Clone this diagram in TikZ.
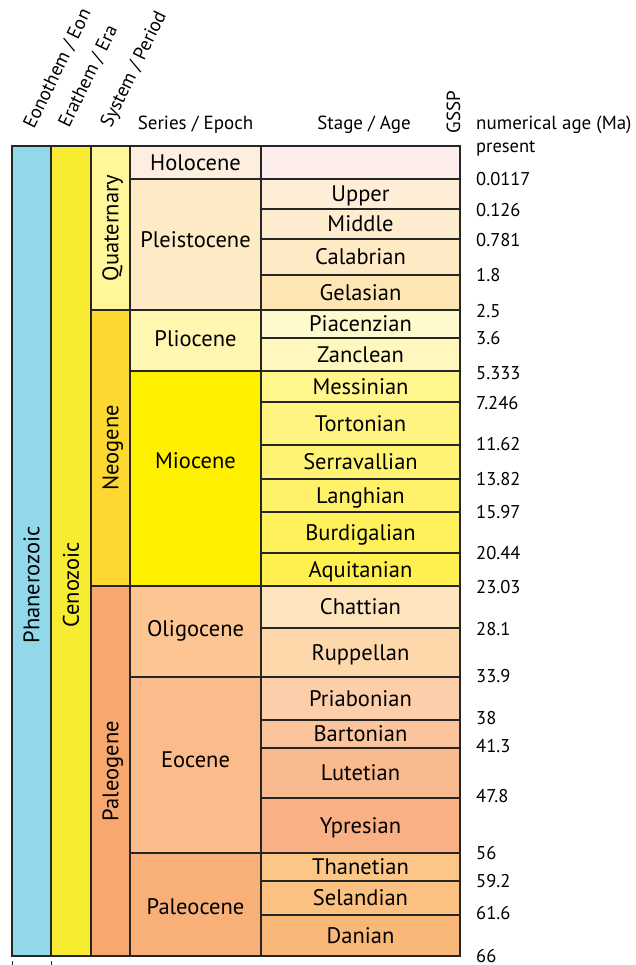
\documentclass[tikz,border=0pt]{standalone}
\usepackage{fontspec}
\setmainfont{PT Sans}
\usepackage{tikz}
\usetikzlibrary{positioning}

\definecolor{phan}{RGB}{145,216,235}
\definecolor{ceno}{RGB}{247,236,50}
\definecolor{quat}{RGB}{255,247,153}
\definecolor{neog}{RGB}{253,216,48}
\definecolor{paleog}{RGB}{248,167,110}
\definecolor{holoE}{RGB}{254,238,224}
\definecolor{holoS}{RGB}{253,238,236}
\definecolor{pleis}{RGB}{254,234,196}
\definecolor{upper}{RGB}{254,238,216}
\definecolor{middle}{RGB}{254,236,207}
\definecolor{calab}{RGB}{254,234,196}
\definecolor{gelas}{RGB}{254,229,180}
\definecolor{plio}{RGB}{255,246,176}
\definecolor{piac}{RGB}{255,249,206}
\definecolor{zanc}{RGB}{255,247,190}
\definecolor{mio}{RGB}{255,240,0}
\definecolor{mess}{RGB}{255,246,140}
\definecolor{tort}{RGB}{255,244,128}
\definecolor{serr}{RGB}{255,243,115}
\definecolor{lang}{RGB}{255,242,104}
\definecolor{burd}{RGB}{255,241,92}
\definecolor{aqui}{RGB}{255,240,80}
\definecolor{oligo}{RGB}{252,197,146}
\definecolor{chat}{RGB}{254,228,188}
\definecolor{rupp}{RGB}{254,216,170}
\definecolor{eoc}{RGB}{251,187,138}
\definecolor{priab}{RGB}{252,206,170}
\definecolor{bart}{RGB}{251,196,156}
\definecolor{lute}{RGB}{250,186,144}
\definecolor{ypres}{RGB}{249,176,133}
\definecolor{paleoc}{RGB}{248,176,120}
\definecolor{thane}{RGB}{252,198,134}
\definecolor{seland}{RGB}{252,193,128}
\definecolor{dani}{RGB}{250,184,120}

\begin{document}
\begin{tikzpicture}[
  x=1pt,y=-1pt,
  cell/.style={draw=black!85,line width=1.3pt},
  lab/.style={font=\fontsize{22.5}{26}\selectfont,inner sep=0pt,
    text height=15.7pt,text depth=0pt},
  head/.style={font=\fontsize{19}{22}\selectfont,inner sep=0pt},
  age/.style={font=\fontsize{18.5}{22}\selectfont,inner sep=0pt,
    text height=13pt,text depth=0pt,anchor=west}
]
  \useasboundingbox (0,0) rectangle (635,965);

  % column headers
  \node[head,rotate=64,anchor=base west] (hEon) at (34,130) {Eonothem / Eon};
  \node[head,rotate=64,anchor=base west] (hEra) at (69,129) {Erathem / Era};
  \node[head,rotate=64,anchor=base west] (hPer) at (111,129) {System / Period};
  \node[head,anchor=base] (hEpo) at (195.5,129.5) {Series / Epoch};
  \node[head,anchor=base] (hSta) at (364,129.5) {Stage / Age};
  \node[head,rotate=90,text height=13.3pt,text depth=0pt] (hGssp) at (453.5,112) {GSSP};
  \node[head,anchor=base west] (hAge) at (476,130) {numerical age (Ma)};

  % Eon, Era, Period
  \filldraw[cell,fill=phan] (12,146) rectangle (51,956);
  \filldraw[cell,fill=ceno] (51,146) rectangle (91,956);
  \filldraw[cell,fill=quat] (91,146) rectangle (130,310);
  \filldraw[cell,fill=neog] (91,310) rectangle (130,586);
  \filldraw[cell,fill=paleog] (91,586) rectangle (130,956);
  \node[lab,rotate=90] (phanero) at (31.5,585) {Phanerozoic};
  \node[lab,rotate=90] (cenozoic) at (71,585) {Cenozoic};
  \node[lab,rotate=90] (quaternary) at (110.5,228) {Quaternary};
  \node[lab,rotate=90] (neogene) at (110.5,448) {Neogene};
  \node[lab,rotate=90] (paleogene) at (110.5,771) {Paleogene};

  % Epochs
  \filldraw[cell,fill=holoE] (130,146) rectangle (261,179);
  \filldraw[cell,fill=pleis] (130,179) rectangle (261,310);
  \filldraw[cell,fill=plio] (130,310) rectangle (261,371);
  \filldraw[cell,fill=mio] (130,371) rectangle (261,586);
  \filldraw[cell,fill=oligo] (130,586) rectangle (261,677);
  \filldraw[cell,fill=eoc] (130,677) rectangle (261,853);
  \filldraw[cell,fill=paleoc] (130,853) rectangle (261,956);
  \node[lab] (holocene) at (195.5,162.5) {Holocene};
  \node[lab] (pleistocene) at (195.5,240) {Pleistocene};
  \node[lab] (pliocene) at (195.5,339) {Pliocene};
  \node[lab] (miocene) at (195.5,461) {Miocene};
  \node[lab] (oligocene) at (195.5,629) {Oligocene};
  \node[lab] (eocene) at (195.5,760) {Eocene};
  \node[lab] (paleocene) at (195.5,907) {Paleocene};

  % Stages
  \filldraw[cell,fill=holoS] (261,146) rectangle (460,179);
  \filldraw[cell,fill=upper] (261,179) rectangle (460,209);
  \filldraw[cell,fill=middle] (261,209) rectangle (460,239);
  \filldraw[cell,fill=calab] (261,239) rectangle (460,275);
  \filldraw[cell,fill=gelas] (261,275) rectangle (460,310);
  \filldraw[cell,fill=piac] (261,310) rectangle (460,338);
  \filldraw[cell,fill=zanc] (261,338) rectangle (460,371);
  \filldraw[cell,fill=mess] (261,371) rectangle (460,402);
  \filldraw[cell,fill=tort] (261,402) rectangle (460,445);
  \filldraw[cell,fill=serr] (261,445) rectangle (460,479);
  \filldraw[cell,fill=lang] (261,479) rectangle (460,512);
  \filldraw[cell,fill=burd] (261,512) rectangle (460,553);
  \filldraw[cell,fill=aqui] (261,553) rectangle (460,586);
  \filldraw[cell,fill=chat] (261,586) rectangle (460,628);
  \filldraw[cell,fill=rupp] (261,628) rectangle (460,677);
  \filldraw[cell,fill=priab] (261,677) rectangle (460,720);
  \filldraw[cell,fill=bart] (261,720) rectangle (460,748);
  \filldraw[cell,fill=lute] (261,748) rectangle (460,798);
  \filldraw[cell,fill=ypres] (261,798) rectangle (460,853);
  \filldraw[cell,fill=thane] (261,853) rectangle (460,881);
  \filldraw[cell,fill=seland] (261,881) rectangle (460,915);
  \filldraw[cell,fill=dani] (261,915) rectangle (460,956);
  \node[lab] (sUpper) at (360.5,194) {Upper};
  \node[lab] (sMiddle) at (360.5,224) {Middle};
  \node[lab] (sCalab) at (360.5,257) {Calabrian};
  \node[lab] (sGelas) at (360.5,292.5) {Gelasian};
  \node[lab] (sPiac) at (360.5,324) {Piacenzian};
  \node[lab] (sZanc) at (360.5,354.5) {Zanclean};
  \node[lab] (sMess) at (360.5,386.5) {Messinian};
  \node[lab] (sTort) at (360.5,423.5) {Tortonian};
  \node[lab] (sSerr) at (360.5,462) {Serravallian};
  \node[lab] (sLang) at (360.5,495.5) {Langhian};
  \node[lab] (sBurd) at (360.5,532.5) {Burdigalian};
  \node[lab] (sAqui) at (360.5,569.5) {Aquitanian};
  \node[lab] (sChat) at (360.5,607) {Chattian};
  \node[lab] (sRupp) at (360.5,652.5) {Ruppellan};
  \node[lab] (sPriab) at (360.5,698.5) {Priabonian};
  \node[lab] (sBart) at (360.5,734) {Bartonian};
  \node[lab] (sLute) at (360.5,773) {Lutetian};
  \node[lab] (sYpres) at (360.5,825.5) {Ypresian};
  \node[lab] (sThane) at (360.5,867) {Thanetian};
  \node[lab] (sSeland) at (360.5,898) {Selandian};
  \node[lab] (sDani) at (360.5,935.5) {Danian};

  % numerical ages
  \node[age] (a0) at (476,146) {present};
  \node[age] (a1) at (476,179) {0.0117};
  \node[age] (a2) at (476,210) {0.126};
  \node[age] (a3) at (476,240) {0.781};
  \node[age] (a4) at (476,275) {1.8};
  \node[age] (a5) at (476,311) {2.5};
  \node[age] (a6) at (476,338) {3.6};
  \node[age] (a7) at (476,373) {5.333};
  \node[age] (a8) at (476,403) {7.246};
  \node[age] (a9) at (476,444) {11.62};
  \node[age] (a10) at (476,479) {13.82};
  \node[age] (a11) at (476,512) {15.97};
  \node[age] (a12) at (476,553) {20.44};
  \node[age] (a13) at (476,587) {23.03};
  \node[age] (a14) at (476,629) {28.1};
  \node[age] (a15) at (476,676) {33.9};
  \node[age] (a16) at (476,718) {38};
  \node[age] (a17) at (476,746) {41.3};
  \node[age] (a18) at (476,796) {47.8};
  \node[age] (a19) at (476,853) {56};
  \node[age] (a20) at (476,881) {59.2};
  \node[age] (a21) at (476,913) {61.6};
  \node[age] (a22) at (476,956) {66};

  % ticks below
  \draw[line width=1pt,black!85] (12,961) -- (12,965);
  \draw[line width=1pt,black!85] (51,961) -- (51,965);
\end{tikzpicture}
\end{document}
